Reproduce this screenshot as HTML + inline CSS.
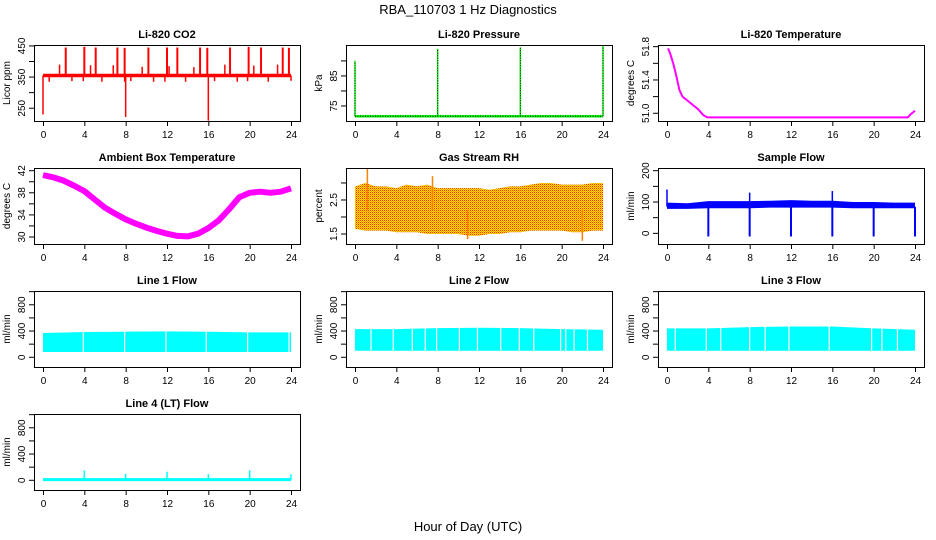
<!DOCTYPE html>
<html><head><meta charset="utf-8"><title>RBA_110703 1 Hz Diagnostics</title>
<style>
html,body{margin:0;padding:0;background:#fff;}
svg{display:block;font-family:"Liberation Sans",sans-serif;}
</style></head>
<body>
<svg id="fig" width="936" height="540" viewBox="0 0 936 540">
<defs>
<pattern id="rhpat" width="2" height="2" patternUnits="userSpaceOnUse">
<rect width="2" height="2" fill="#ffdd00"/><rect width="1" height="1" fill="#ff3000"/><rect x="1" y="1" width="1" height="1" fill="#ffa000"/>
</pattern>
</defs>
<text x="468" y="14" text-anchor="middle" font-size="13">RBA_110703  1 Hz Diagnostics</text>
<text x="468" y="531" text-anchor="middle" font-size="13">Hour of Day (UTC)</text>
</svg>
<script>
// ---- data ----
const xTicks=[0,4,8,12,16,20,24];
// CO2
const co2Base=355;
const co2SpikeHours=[2.2,4.0,5.1,7.2,7.9,10.2,12.0,13.0,15.2,15.9,18.1,19.9,21.1,23.2,23.8];
const co2SpikeVals=[445,447,445,445,444,445,445,445,445,444,445,447,445,445,444];
const co2SmallHours=[1.6,4.6,6.8,9.6,12.2,14.6,17.6,20.4,22.7];
const co2SmallVals=[390,388,388,383,385,382,390,387,390];
const co2DipHours=[0.0,0.6,2.8,3.9,5.7,7.9,8.0,8.5,10.7,11.8,13.8,16.0,16.6,18.8,19.8,21.8,24.0];
const co2DipVals=[230,335,337,337,335,335,222,337,335,335,335,210,337,335,337,335,338];
// Pressure
const presBase=71.6;
const presSpikeHours=[0.0,8.0,16.0,24.0];
const presSpikeVals=[90,94,94.5,95];
// Li-820 temperature
const ltHours=[0.1,0.3,0.6,0.9,1.2,1.5,2.0,2.5,3.0,3.5,3.9,6,10,14,18,22,23.3,23.6,24.0];
const ltVals=[51.78,51.72,51.6,51.45,51.28,51.2,51.15,51.1,51.05,50.98,50.95,50.95,50.95,50.95,50.95,50.95,50.95,50.99,51.03];
// Ambient box temperature
const ambHours=[0,1,2,3,4,5,6,7,8,9,10,11,12,13,14,15,16,17,18,19,20,21,22,23,24];
const ambVals=[41.2,40.8,40.2,39.3,38.3,36.8,35.3,34.2,33.2,32.4,31.7,31.1,30.6,30.2,30.1,30.6,31.6,33.0,35.0,37.2,38.0,38.2,38.0,38.2,38.8];
// Gas stream RH (hourly band)
const rhHours=[0,1,2,3,4,5,6,7,8,9,10,11,12,13,14,15,16,17,18,19,20,21,22,23,24];
const rhTop=[2.9,3.0,2.9,2.9,2.85,2.95,2.9,2.95,2.85,2.85,2.85,2.85,2.85,2.8,2.85,2.9,2.9,2.95,3.0,3.0,2.95,2.95,2.95,3.0,3.0];
const rhBot=[1.65,1.6,1.6,1.6,1.55,1.55,1.55,1.5,1.5,1.5,1.5,1.45,1.45,1.5,1.5,1.55,1.55,1.6,1.6,1.6,1.6,1.55,1.55,1.6,1.6];
const rhSpikeHours=[1.2,7.5,10.9,22.0];
const rhSpikeVals=[3.45,3.2,1.35,1.3];
// Sample flow
const sfHours=[0,2,4,6,8,10,12,14,16,18,20,22,24];
const sfTop=[98,96,103,103,103,104,106,104,104,100,100,98,98];
const sfBot=[78,78,80,80,80,82,82,82,82,80,80,80,80];
const sfDipHours=[4,8,12,16,20,24];
const sfDipVals=[-10,-10,-10,-10,-10,-10];
const sfSpikeHours=[0,8,16];
const sfSpikeVals=[140,130,135];
// Line flows
const flowHours=[0,4,8,12,16,20,24];
const l1Top=[370,385,390,395,390,380,380];
const l1Bot=[80,80,80,80,80,80,80];
const l1Gaps=[3.9,7.9,11.9,15.8,19.8,23.8];
const l2Top=[430,430,445,450,445,430,420];
const l2Bot=[100,100,100,100,100,100,100];
const l2Gaps=[1.55,3.7,5.55,6.8,7.9,10.1,11.85,14.1,15.9,17.3,19.9,20.4,21.2,22.5];
const l3Top=[440,440,460,470,470,440,420];
const l3Bot=[100,100,100,100,100,100,100];
const l3Gaps=[0.8,3.8,5.2,8.0,9.5,11.8,15.7,19.8,20.8,22.3];
const l4Base=10;
const l4SpikeHours=[4,8,12,16,20,24];
const l4SpikeVals=[150,100,130,90,150,90];

// ---- layout ----
const NS='http://www.w3.org/2000/svg';
const svg=document.getElementById('fig');
const colL=[34,346,658], rowT=[45,168,291,414], BW=266, BH=76;
function el(tag,attrs,parent){const e=document.createElementNS(NS,tag);for(const k in attrs)e.setAttribute(k,attrs[k]);(parent||svg).appendChild(e);return e;}
function panel(c,r,title,ylab,ymin,ymax,yt,yl,clipId){
  const L=colL[c],T=rowT[r];
  const g=el('g',{});
  const sx=h=>L+9+h*248/24;
  const sy=v=>T+BH-(v-ymin)/(ymax-ymin)*BH;
  const cp=el('clipPath',{id:clipId},g);el('rect',{x:L,y:T,width:BW,height:BH},cp);
  const t=el('text',{x:L+BW/2,y:T-7,'text-anchor':'middle','font-size':11,'font-weight':'bold'},g);t.textContent=title;
  
  
  const yt2=el('text',{x:0,y:0,'text-anchor':'middle','font-size':10,transform:`translate(${L-24},${T+BH/2}) rotate(-90)`},g);yt2.textContent=ylab;
  
  
  const xa=el('g',{stroke:'#000','stroke-width':1},g);
  
  
  el('line',{x1:sx(0),x2:sx(24),y1:T+BH+0.5,y2:T+BH+0.5},xa);
  xTicks.forEach(h=>{el('line',{x1:sx(h)+0.5,x2:sx(h)+0.5,y1:T+BH,y2:T+BH+5},xa);
    const lb=el('text',{x:sx(h)+0.5,y:T+BH+17,'text-anchor':'middle','font-size':10,stroke:'none'},g);lb.textContent=h;
    
    });
  const ya=el('g',{stroke:'#000','stroke-width':1},g);
  
  
  el('line',{x1:L+0.5,x2:L+0.5,y1:sy(yt[0]),y2:sy(yt[yt.length-1])},ya);
  yt.forEach(v=>{el('line',{x1:L-5,x2:L,y1:sy(v),y2:sy(v)},ya);});
  yl.forEach(v=>{const lb=el('text',{x:0,y:0,'text-anchor':'middle','font-size':10,transform:`translate(${L-9},${sy(v)}) rotate(-90)`},g);lb.textContent=v;
    
    });
  const m=el('g',{'clip-path':`url(#${clipId})`},g);
  
  
  const box=el('rect',{x:L+0.5,y:T+0.5,width:BW,height:BH,fill:'none',stroke:'#000'},g);
  
  
  return {sx,sy,m,L,T};
}
function band(p,hs,top,bot,fill){
  let pts=hs.map((h,i)=>p.sx(h)+','+p.sy(top[i]));
  pts=pts.concat(hs.slice().reverse().map((h,j)=>{const i=hs.length-1-j;return p.sx(h)+','+p.sy(bot[i]);}));
  const b=el('polygon',{points:pts.join(' '),fill:fill},p.m);
  
  
  return b;
}
function vlines(p,hs,from,vals,color,w,dash){
  hs.forEach((h,i)=>{const l=el('line',{x1:p.sx(h),x2:p.sx(h),y1:p.sy(from),y2:p.sy(vals[i]),stroke:color,'stroke-width':w||2},p.m);
    if(dash)l.setAttribute('stroke-dasharray',dash);
    
    });
}
// CO2
let p=panel(0,0,'Li-820 CO2','Licor ppm',209,453,[250,300,350,400,450],[250,350,450],'c1');
el('line',{x1:p.sx(0),x2:p.sx(24),y1:p.sy(co2Base),y2:p.sy(co2Base),stroke:'#f00','stroke-width':3.5},p.m);
vlines(p,co2SpikeHours,co2Base,co2SpikeVals,'#f00',2);
vlines(p,co2SmallHours,co2Base,co2SmallVals,'#f00',1.5);
vlines(p,co2DipHours,co2Base,co2DipVals,'#f00',1.5);
// Pressure
p=panel(1,0,'Li-820 Pressure','kPa',70,95.3,[75,80,85,90],[75,85],'c2');
el('line',{x1:p.sx(0),x2:p.sx(24),y1:p.sy(presBase),y2:p.sy(presBase),stroke:'#00ff00','stroke-width':2.5},p.m);
el('line',{x1:p.sx(0),x2:p.sx(24),y1:p.sy(presBase),y2:p.sy(presBase),stroke:'#000','stroke-width':1,'stroke-dasharray':'1 1.5'},p.m);
vlines(p,presSpikeHours,presBase,presSpikeVals,'#00ff00',1.5);
vlines(p,presSpikeHours,presBase,presSpikeVals,'#000',1,'1 1.5');
// Li temp
p=panel(2,0,'Li-820 Temperature','degrees C',50.907,51.82,[51.0,51.2,51.4,51.6,51.8],['51.0','51.4','51.8'],'c3');
el('polyline',{points:ltHours.map((h,i)=>p.sx(h)+','+p.sy(ltVals[i])).join(' '),fill:'none',stroke:'#f0f','stroke-width':2},p.m);
// Ambient
p=panel(0,1,'Ambient Box Temperature','degrees C',28.73,42.49,[30,32,34,36,38,40,42],[30,34,38,42],'c4');
el('polyline',{points:ambHours.map((h,i)=>p.sx(h)+','+p.sy(ambVals[i])).join(' '),fill:'none',stroke:'#f0f','stroke-width':6,'stroke-linejoin':'round'},p.m);
// RH
p=panel(1,1,'Gas Stream RH','percent',1.206,3.44,[1.5,2.0,2.5,3.0],['1.5','2.5'],'c5');
band(p,rhHours,rhTop,rhBot,'url(#rhpat)');
vlines(p,rhSpikeHours,2.2,rhSpikeVals,'#ff8000',1.5);
// Sample flow
p=panel(2,1,'Sample Flow','ml/min',-34,208.6,[0,50,100,150,200],[0,100,200],'c6');
band(p,sfHours,sfTop,sfBot,'#0000ff');
vlines(p,sfDipHours,85,sfDipVals,'#0000ff',2);
vlines(p,sfSpikeHours,85,sfSpikeVals,'#0000ff',1.5);
// Line flows
const fy=[-148,1010],ft=[0,200,400,600,800,1000],fl=[0,400,800];
[[0,2,'Line 1 Flow',l1Top,l1Bot,l1Gaps],[1,2,'Line 2 Flow',l2Top,l2Bot,l2Gaps],[2,2,'Line 3 Flow',l3Top,l3Bot,l3Gaps]].forEach((d,k)=>{
  const q=panel(d[0],d[1],d[2],'ml/min',fy[0],fy[1],ft,fl,'f'+k);
  band(q,flowHours,d[3],d[4],'#00ffff');
  d[5].forEach(h=>{const l=el('line',{x1:q.sx(h),x2:q.sx(h),y1:q.sy(d[4][0]),y2:q.sy(500),stroke:'#fff','stroke-width':1.2},q.m);
    
    });
});
p=panel(0,3,'Line 4 (LT) Flow','ml/min',fy[0],fy[1],ft,fl,'f4');
el('line',{x1:p.sx(0),x2:p.sx(24),y1:p.sy(l4Base),y2:p.sy(l4Base),stroke:'#00ffff','stroke-width':3},p.m);
vlines(p,l4SpikeHours,l4Base,l4SpikeVals,'#00ffff',1.5);
</script>
</body></html>
